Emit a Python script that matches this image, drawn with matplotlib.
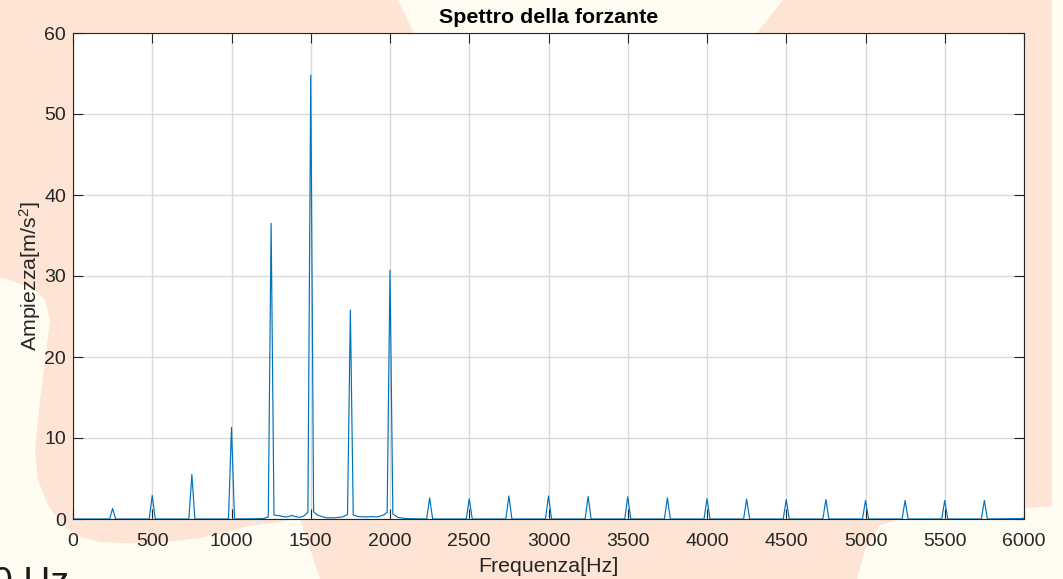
import matplotlib
matplotlib.use("Agg")
import matplotlib.pyplot as plt
from matplotlib.patches import Polygon
import numpy as np

plt.rcParams['font.family'] = ['Liberation Sans', 'DejaVu Sans']
plt.rcParams['mathtext.fontset'] = 'custom'
plt.rcParams['mathtext.rm'] = 'Liberation Sans'
plt.rcParams['mathtext.it'] = 'Liberation Sans:italic'

# Harmonic peaks of the forcing spectrum
harmonic_freq = [250, 500, 750, 1000, 1250, 1500, 1750, 2000, 2250, 2500, 2750,
                 3000, 3250, 3500, 3750, 4000, 4250, 4500, 4750, 5000, 5250,
                 5500, 5750]
harmonic_amp = [1.3, 2.9, 5.5, 11.3, 36.5, 54.8, 25.8, 30.7, 2.6, 2.5, 2.85,
                2.85, 2.8, 2.75, 2.6, 2.5, 2.45, 2.4, 2.4, 2.3, 2.3, 2.3, 2.3]

# Low-level leakage between the dominant harmonics
floor_freq = [1100, 1200, 1232, 1268, 1300, 1340, 1360, 1380, 1400, 1430, 1460,
              1482, 1518, 1540, 1570, 1600, 1650, 1700, 1732, 1768, 1800, 1850,
              1880, 1920, 1960, 1982, 2018, 2050, 2100, 5980, 6000]
floor_amp = [0.02, 0.05, 0.25, 0.5, 0.4, 0.25, 0.3, 0.45, 0.3, 0.2, 0.4,
             0.85, 0.9, 0.5, 0.3, 0.15, 0.15, 0.25, 0.55, 0.5, 0.3, 0.25,
             0.3, 0.25, 0.5, 0.8, 0.6, 0.2, 0.05, 0.05, 0.12]

half_width = 19  # Hz, half base of each spectral line

xticks = list(range(0, 6001, 500))
yticks = list(range(0, 61, 10))

# assemble the spectrum polyline
pts = {0.0: 0.0}
for f, a in zip(floor_freq, floor_amp):
    pts[float(f)] = a
for f, a in zip(harmonic_freq, harmonic_amp):
    pts[float(f)] = a
    for side in (-half_width, half_width):
        fb = float(f + side)
        near = [k for k in floor_freq if abs(k - fb) < 25]
        if not near:
            pts[fb] = 0.0
freq = np.array(sorted(pts))
amp = np.array([pts[k] for k in freq])

W, H = 1063, 579
cream = '#FFFDF2'
peach = '#FDE4D4'
fig = plt.figure(figsize=(W / 100, H / 100), dpi=100, facecolor=cream)


def px(points):
    return [(x / W, 1 - y / H) for x, y in points]


shapes = [
    [(0, 0), (398, 0), (414, 33), (420, 300), (300, 519), (250, 526), (200, 538),
     (150, 544), (100, 542), (75, 535), (60, 522), (48, 505), (38, 480), (35, 450),
     (40, 400), (45, 360), (50, 320), (45, 300), (35, 290), (15, 282), (0, 277)],
    [(300, 300), (300, 519), (320, 579), (857, 579), (865, 550), (880, 525),
     (900, 519), (900, 300)],
    [(783, 0), (1052, 0), (1052, 506), (1030, 508), (1000, 511), (900, 519),
     (800, 300), (757, 33)],
]
for s in shapes:
    fig.patches.append(Polygon(px(s), closed=True, transform=fig.transFigure,
                               facecolor=peach, edgecolor='none', zorder=-10))

ax = fig.add_axes([73 / W, 1 - 519 / H, (1024 - 73) / W, (519 - 33) / H])
ax.set_facecolor('white')
ax.plot(freq, amp, color='#0072BD', lw=0.85)
ax.set_xlim(0, 6000)
ax.set_ylim(0, 60)
ax.set_xticks(xticks)
ax.set_yticks(yticks)
ax.grid(True, color='#D9D9D9', lw=1.0)
ax.set_axisbelow(True)
ax.tick_params(direction='in', length=7, width=0.8, colors='#262626',
               labelsize=14, top=True, right=True)
ax.tick_params(axis='x', pad=10)
ax.tick_params(axis='y', pad=5)
for sp in ax.spines.values():
    sp.set_color('#262626')
    sp.set_linewidth(0.8)

ax.set_title('Spettro della forzante', fontsize=15.4, fontweight='bold',
             color='black', pad=7)
ax.set_xlabel('Frequenza[Hz]', fontsize=15.4, color='#262626', labelpad=5)
ax.set_ylabel('Ampiezza[m/s$^2$]', fontsize=15.4, color='#262626', labelpad=1)

fig.text(-8 / W, 1 - 566 / H, '0 Hz', fontsize=27, color='#1A1A1A',
         va='top', ha='left')

fig.savefig('out.png', dpi=100, facecolor=cream)
